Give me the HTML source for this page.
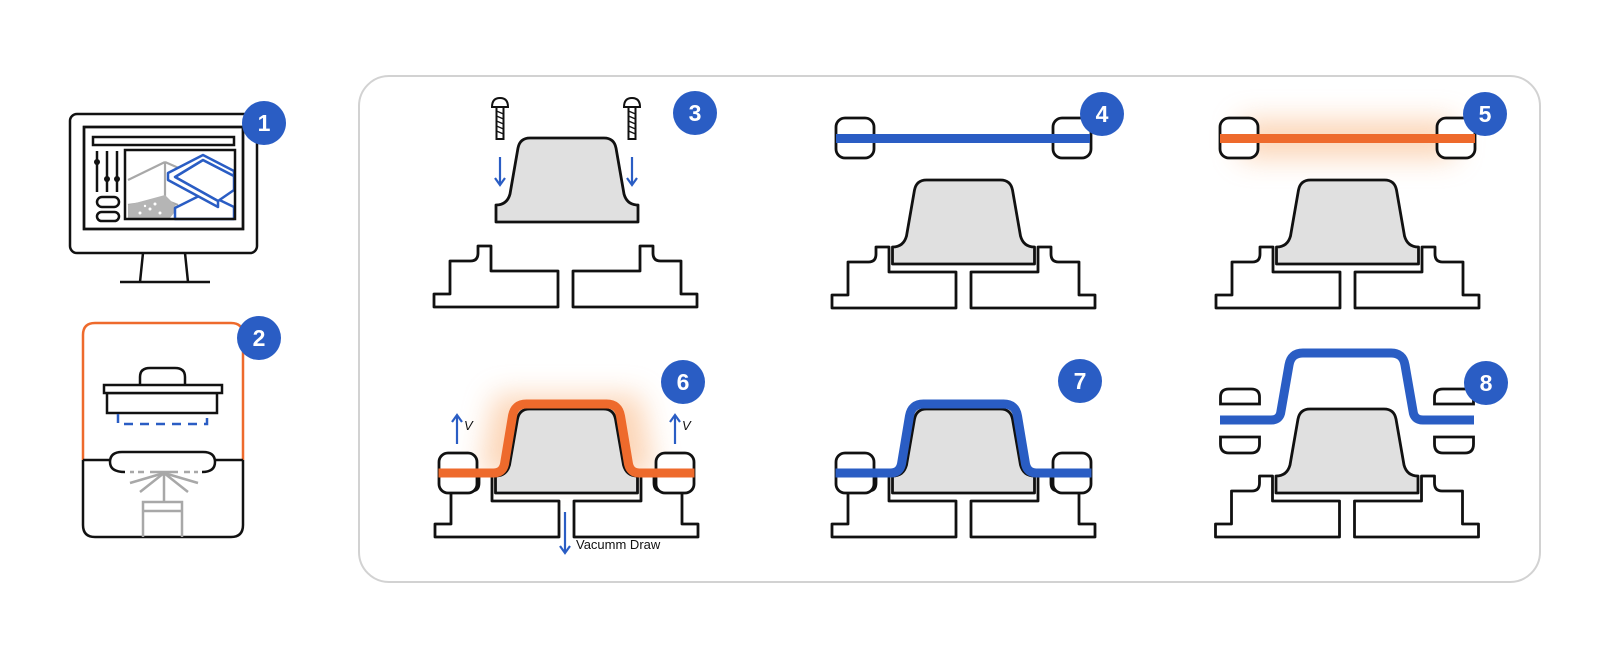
<!DOCTYPE html>
<html><head><meta charset="utf-8"><style>
html,body{margin:0;padding:0;background:#fff;}
svg{display:block;}
text{font-family:"Liberation Sans",sans-serif;}
</style></head><body>
<svg width="1600" height="647" viewBox="0 0 1600 647" xmlns="http://www.w3.org/2000/svg">
<defs>
  <filter id="blur" x="-50%" y="-100%" width="200%" height="300%"><feGaussianBlur stdDeviation="14"/></filter>
  <g id="base" fill="#fff" stroke="#111" stroke-width="2.8" stroke-linejoin="round">
    <path d="M-131.5,0 H-7.5 V-36 H-74.5 V-61 H-87.5 V-54 Q-87.5,-46 -95,-46 H-115.5 V-13 H-131.5 Z"/>
    <path d="M131.5,0 H7.5 V-36 H74.5 V-61 H87.5 V-54 Q87.5,-46 95,-46 H115.5 V-13 H131.5 Z"/>
  </g>
  <path id="mold" fill="#e0e0e0" stroke="#111" stroke-width="2.8" stroke-linejoin="round" d="M-71,-44 L-71,-61 Q-60,-61 -57,-72 L-49,-118 Q-47,-128 -37,-128 L37,-128 Q47,-128 49,-118 L57,-72 Q60,-61 71,-61 L71,-44 Z"/>
  <g id="clampL" fill="#fff" stroke="#111" stroke-width="2.8"><rect x="-127.5" y="0" width="38" height="40" rx="9"/><line x1="-127.5" y1="20" x2="-89.5" y2="20"/></g>
  <g id="clamps"><use href="#clampL"/><use href="#clampL" transform="scale(-1,1)"/></g>
  <path id="formed" fill="none" stroke-width="9" stroke-linejoin="round" d="M-128,-64 L-73,-64 Q-64,-64 -62,-73 L-54,-121 Q-52,-133 -40,-133 L40,-133 Q52,-133 54,-121 L62,-73 Q64,-64 73,-64 L128,-64"/>
  <g id="arrowDown" stroke="#2a5dc4" stroke-width="2.2" fill="none"><line x1="0" y1="0" x2="0" y2="27"/><path d="M-5,21 L0,28 L5,21"/></g>
  <g id="arrowUp" stroke="#2a5dc4" stroke-width="2.2" fill="none"><line x1="0" y1="0" x2="0" y2="-28"/><path d="M-5,-22 L0,-29 L5,-22"/></g>
  <g id="screw" fill="#fff" stroke="#111" stroke-width="2">
    <path d="M-8,7 Q-8,-2 0,-2 Q8,-2 8,7 Z"/>
    <rect x="-3.5" y="7" width="7" height="32" fill="#fff"/>
    <path d="M-3.5,11 L3.5,14 M-3.5,16 L3.5,19 M-3.5,21 L3.5,24 M-3.5,26 L3.5,29 M-3.5,31 L3.5,34" stroke-width="1.3"/>
  </g>
</defs>

<rect x="359" y="76" width="1181" height="506" rx="30" fill="none" stroke="#d2d2d2" stroke-width="2"/>

<!-- Step 1 monitor -->
<g fill="none" stroke="#111" stroke-width="2.5">
  <rect x="70" y="114" width="187" height="139" rx="7"/>
  <rect x="84" y="127" width="159" height="102"/>
  <rect x="93" y="137" width="141" height="8"/>
  <path d="M143,253 L140,282 M185,253 L188,282"/>
  <line x1="120" y1="282" x2="210" y2="282"/>
  <line x1="97" y1="151" x2="97" y2="192"/><line x1="107" y1="151" x2="107" y2="192"/><line x1="117" y1="151" x2="117" y2="192"/>
  <rect x="97" y="197" width="22" height="10" rx="5"/><rect x="97" y="212" width="22" height="9" rx="4.5"/>
</g>
<circle cx="97" cy="162" r="3" fill="#111"/><circle cx="107" cy="179" r="3" fill="#111"/><circle cx="117" cy="179" r="3" fill="#111"/>
<g fill="none" stroke="#a8a8a8" stroke-width="2.2">
  <path d="M165,162 L165,200 M165,162 L128,180 M165,162 L190,173 M128,205 L165,200 L178,205"/>
</g>
<path d="M128,218 L128,205 L165,195 L178,208 L170,218 Z" fill="#b5b5b5"/>
<g fill="#fff"><circle cx="140" cy="213" r="1.5"/><circle cx="150" cy="209" r="1.5"/><circle cx="160" cy="213" r="1.5"/><circle cx="155" cy="204" r="1.5"/><circle cx="145" cy="206" r="1.2"/></g>
<g fill="#fff" stroke="#2a5dc4" stroke-width="2.5" stroke-linejoin="round">
  <path d="M175,208 L205,193 L234,207 L234,219 L175,219 Z"/>
  <path d="M175,177 L203,160 L234,176 L234,190 L218,201 Z"/>
  <path d="M168,173 L203,155 L234,171 L234,176 L203,160 L175,177 L218,201 L218,207 L168,180 Z"/>
</g>
<rect x="84" y="127" width="159" height="102" fill="none" stroke="#111" stroke-width="2.5"/>
<rect x="125" y="150" width="110" height="69" fill="none" stroke="#111" stroke-width="2.5"/>

<!-- Step 2 -->
<path d="M83,460 V335 Q83,323 95,323 H231 Q243,323 243,335 V460" fill="none" stroke="#ee6a2c" stroke-width="2.5"/>
<path d="M83,460 V525 Q83,537 95,537 H231 Q243,537 243,525 V460" fill="none" stroke="#111" stroke-width="2.5"/>
<path d="M83,460 H110 M215,460 H243" stroke="#111" stroke-width="2.5"/>
<path d="M125,472 Q110,472 110,462 Q110,452 122,452 H203 Q215,452 215,462 Q215,472 202,472" fill="none" stroke="#111" stroke-width="2.5"/>
<g fill="#fff" stroke="#111" stroke-width="2.5">
  <path d="M140,385 V377 Q140,368 150,368 H175 Q185,368 185,377 V385"/>
  <rect x="107" y="393" width="110" height="20"/>
  <rect x="104" y="385" width="118" height="8"/>
</g>
<path d="M118,414 V424 H207 V414" fill="none" stroke="#2a5dc4" stroke-width="2.5" stroke-dasharray="9,7"/>
<g stroke="#a8a8a8" stroke-width="2.5" fill="none">
  <path d="M130,472 H134 M138,472 H144 M150,472 H178 M184,472 H190 M194,472 H198"/>
  <path d="M164,473 L130,483 M164,473 L140,492 M164,473 L198,483 M164,473 L188,492 M164,473 V502"/>
  <path d="M143,537 V502 H182 V537 M143,511 H182"/>
</g>

<!-- Step 3 -->
<use href="#base" transform="translate(565.5,307)"/>
<use href="#mold" transform="translate(567,266)"/>
<use href="#screw" transform="translate(500,100)"/>
<use href="#screw" transform="translate(632,100)"/>
<use href="#arrowDown" transform="translate(500,157)"/>
<use href="#arrowDown" transform="translate(632,157)"/>

<!-- Step 4 -->
<use href="#base" transform="translate(963.5,308)"/>
<use href="#mold" transform="translate(963.5,308)"/>
<use href="#clamps" transform="translate(963.5,118)"/>
<line x1="836" y1="138.5" x2="1090" y2="138.5" stroke="#2a5dc4" stroke-width="9"/>

<!-- Step 5 -->
<rect x="1240" y="120" width="215" height="38" fill="#f9b27a" opacity="0.55" filter="url(#blur)"/>
<use href="#base" transform="translate(1347.5,308)"/>
<use href="#mold" transform="translate(1347.5,308)"/>
<use href="#clamps" transform="translate(1347.5,118)"/>
<line x1="1220" y1="138.5" x2="1475" y2="138.5" stroke="#ee6a2c" stroke-width="9"/>

<!-- Step 6 -->
<path d="M480,475 L495,395 L640,395 L655,475 Z" fill="#f9b27a" opacity="0.55" filter="url(#blur)"/>
<use href="#base" transform="translate(566.5,537)"/>
<use href="#mold" transform="translate(566.5,537)"/>
<use href="#clamps" transform="translate(566.5,453)"/>
<use href="#formed" transform="translate(566.5,537)" stroke="#ee6a2c"/>
<use href="#arrowUp" transform="translate(457,444)"/>
<use href="#arrowUp" transform="translate(675,444)"/>
<text x="464" y="430" font-size="13" font-style="italic" fill="#111">V</text>
<text x="682" y="430" font-size="13" font-style="italic" fill="#111">V</text>
<g stroke="#2a5dc4" stroke-width="2.2" fill="none"><line x1="565" y1="512" x2="565" y2="552"/><path d="M560,546 L565,553 L570,546"/></g>
<text x="576" y="549" font-size="13" fill="#111">Vacumm Draw</text>

<!-- Step 7 -->
<use href="#base" transform="translate(963.5,537)"/>
<use href="#mold" transform="translate(963.5,537)"/>
<use href="#clamps" transform="translate(963.5,453)"/>
<use href="#formed" transform="translate(963.5,537)" stroke="#2a5dc4"/>

<!-- Step 8 -->
<use href="#base" transform="translate(1347,537)"/>
<use href="#mold" transform="translate(1347,537)"/>
<g fill="#fff" stroke="#111" stroke-width="2.8" transform="translate(1347,537)">
  <path d="M-126.5,-133 V-140 Q-126.5,-148 -118,-148 H-96 Q-87.5,-148 -87.5,-140 V-133 Z"/>
  <path d="M126.5,-133 V-140 Q126.5,-148 118,-148 H96 Q87.5,-148 87.5,-140 V-133 Z"/>
  <path d="M-126.5,-100 V-93 Q-126.5,-84 -118,-84 H-96 Q-87.5,-84 -87.5,-93 V-100 Z"/>
  <path d="M126.5,-100 V-93 Q126.5,-84 118,-84 H96 Q87.5,-84 87.5,-93 V-100 Z"/>
  <path fill="none" stroke="#2a5dc4" stroke-width="9" stroke-linejoin="round" d="M-127,-117 H-76 Q-67,-117 -66,-126 L-58,-172 Q-56,-184 -44,-184 H44 Q56,-184 58,-172 L66,-126 Q67,-117 76,-117 H127"/>
</g>

<!-- Badges -->
<g font-size="23" font-weight="bold" fill="#fff" text-anchor="middle">
  <circle cx="264" cy="123" r="22" fill="#2a5dc4"/><text x="264" y="131">1</text>
  <circle cx="259" cy="338" r="22" fill="#2a5dc4"/><text x="259" y="346">2</text>
  <circle cx="695" cy="113" r="22" fill="#2a5dc4"/><text x="695" y="121">3</text>
  <circle cx="1102" cy="114" r="22" fill="#2a5dc4"/><text x="1102" y="122">4</text>
  <circle cx="1485" cy="114" r="22" fill="#2a5dc4"/><text x="1485" y="122">5</text>
  <circle cx="683" cy="382" r="22" fill="#2a5dc4"/><text x="683" y="390">6</text>
  <circle cx="1080" cy="381" r="22" fill="#2a5dc4"/><text x="1080" y="389">7</text>
  <circle cx="1486" cy="383" r="22" fill="#2a5dc4"/><text x="1486" y="391">8</text>
</g>
</svg>
</body></html>
